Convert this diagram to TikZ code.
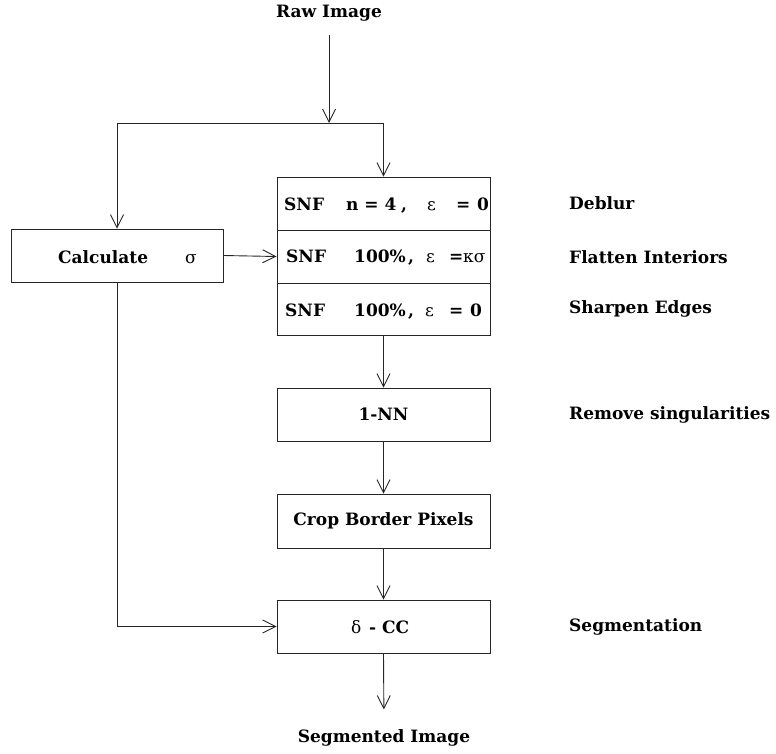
\documentclass[tikz,border=0pt]{standalone}
\usepackage{fontspec}
\setmainfont{DejaVu Serif}
\usetikzlibrary{arrows.meta}

\tikzset{
  every node/.style={font=\bfseries\fontsize{17}{20}\selectfont, inner sep=0pt},
  stage/.style={draw=black!85, line width=0.9pt, rectangle, minimum width=213pt, minimum height=53pt},
  wire/.style={draw=black!85, line width=0.9pt},
  arr/.style={wire, -{Straight Barb[length=13pt, width=13pt, line width=0.9pt]}},
  piece/.style={anchor=base west},
  note/.style={anchor=west},
  greek/.style={font=\mdseries\fontsize{17}{20}\selectfont}
}

\begin{document}
\begin{tikzpicture}[x=1pt, y=-1pt]
\useasboundingbox (0,0) rectangle (776,753);

% input and output captions
\node (raw) at (329,13) {Raw Image};
\node (seg) at (384,738) {Segmented Image};

% processing stages
\node[stage] (snf1) at (383.5,203.5) {};
\node[stage] (snf2) at (383.5,256.5) {};
\node[stage, minimum height=52pt] (snf3) at (383.5,309) {};
\node[stage, minimum width=212pt] (calc) at (117,255.5) {};
\node[stage] (nn) at (383.5,414.5) {1-NN};
\node[stage, minimum height=54pt] (crop) at (383.5,521) {Crop Border Pixels};
\node[stage] (dcc) at (383.5,626.5) {};

% stage texts
\node[piece] at (58,263) {Calculate};
\node[piece, greek] at (185,263) {σ};

\node[piece] at (284,210.5) {SNF};
\node[piece] at (346,210.5) {n = 4};
\node[piece] at (401,210.5) {,};
\node[piece, greek] at (427,210.5) {ε};
\node[piece] at (456,210.5) {=};
\node[piece] at (477,210.5) {0};

\node[piece] at (286,262.5) {SNF};
\node[piece] at (354,262.5) {100\%};
\node[piece] at (408,262.5) {,};
\node[piece, greek] at (426,262.5) {ε};
\node[piece] at (449,262.5) {=};
\node[piece, greek] at (463,262.5) {κσ};

\node[piece] at (285,316) {SNF};
\node[piece] at (354,316) {100\%};
\node[piece] at (408,316) {,};
\node[piece, greek] at (425,316) {ε};
\node[piece] at (449,316) {=};
\node[piece] at (470,316) {0};

\node[piece, greek] at (351,633) {δ};
\node[piece] at (369,633) {- CC};

% side notes
\node[note] at (569,203) {Deblur};
\node[note] at (569,257) {Flatten Interiors};
\node[note] at (569,309) {Sharpen Edges};
\node[note] at (569,415) {Remove singularities};
\node[note] at (569,627) {Segmentation};

% connectors
\coordinate (split) at (117,123);
\coordinate (feed) at (329,123);
\draw[arr, shorten <=14pt] (raw.south) -- (feed);
\draw[wire] (split) -- (feed);
\draw[arr] (feed) -| (snf1.north);
\draw[arr] (split) -- (calc.north);
\draw[arr] (calc.east) -- (snf2.west);
\draw[arr] (snf3.south) -- (nn.north);
\draw[arr] (nn.south) -- (crop.north);
\draw[arr] (crop.south) -- (dcc.north);
\draw[arr] (calc.south) |- (dcc.west);
\draw[arr, shorten >=20pt] (dcc.south) -- (seg.north);
\end{tikzpicture}
\end{document}
